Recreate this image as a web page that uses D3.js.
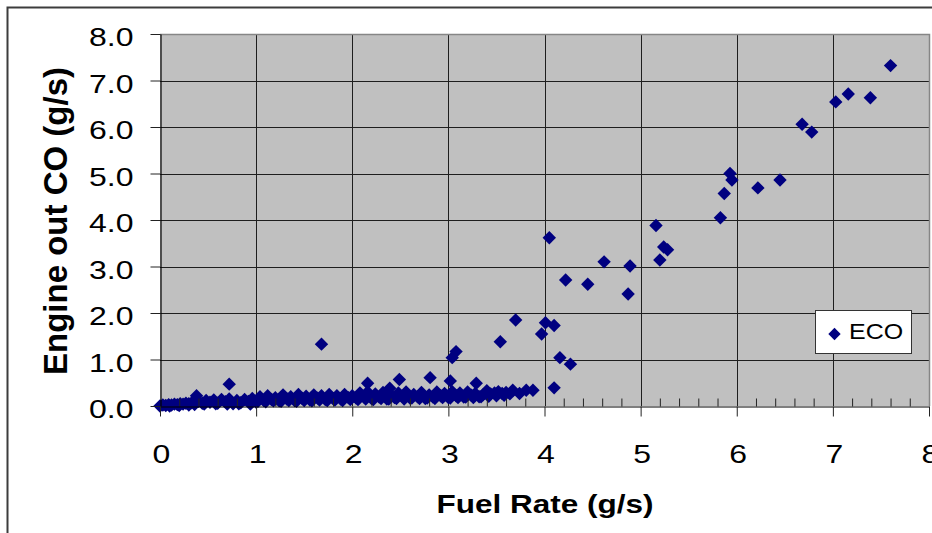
<!DOCTYPE html>
<html>
<head>
<meta charset="utf-8">
<script src="https://cdn.jsdelivr.net/npm/d3@7"></script>
<style>
  html, body { margin: 0; padding: 0; background: #fff; }
  svg { display: block; }
  text { font-family: "Liberation Sans", Arial, sans-serif; fill: #000; }
</style>
</head>
<body>
<svg id="chart" width="932" height="533"></svg>
<script>
// ---- data ----
const fuelRate = [
  // dense band 0 - 0.4
  0.00, 0.03, 0.06, 0.09, 0.12, 0.15, 0.18, 0.21, 0.24, 0.27, 0.30, 0.33, 0.36, 0.38, 0.40,
  0.10, 0.20, 0.30, 0.36,
  // band 0.4 - 1.0
  0.44, 0.48, 0.52, 0.56, 0.60, 0.64, 0.68, 0.72, 0.76, 0.80, 0.84, 0.88, 0.92, 0.96, 1.00,
  0.46, 0.58, 0.70, 0.82, 0.94,
  // band 1.0 - 2.0
  1.04, 1.08, 1.12, 1.16, 1.20, 1.24, 1.28, 1.32, 1.36, 1.40, 1.44, 1.48, 1.52, 1.56, 1.60,
  1.64, 1.68, 1.72, 1.76, 1.80, 1.84, 1.88, 1.92, 1.96, 2.00,
  1.02, 1.10, 1.18, 1.26, 1.34, 1.42, 1.50, 1.58, 1.66, 1.74, 1.82, 1.90, 1.98,
  // band 2.0 - 3.9
  2.04, 2.08, 2.12, 2.16, 2.20, 2.24, 2.28, 2.32, 2.36, 2.40, 2.44, 2.48, 2.52, 2.56, 2.60,
  2.64, 2.68, 2.72, 2.76, 2.80, 2.84, 2.88, 2.92, 2.96, 3.00, 3.04, 3.08, 3.12, 3.16, 3.20,
  3.24, 3.28, 3.32, 3.36, 3.40, 3.44, 3.48, 3.52, 3.56, 3.60, 3.67, 3.81, 3.88,
  2.06, 2.14, 2.22, 2.30, 2.38, 2.46, 2.54, 2.62, 2.70, 2.78, 2.86, 2.94, 3.02, 3.10, 3.18,
  3.26, 3.34, 3.42, 3.50, 3.58, 3.64, 3.74,
  // scattered points
  0.72, 1.68, 2.16, 2.39, 2.49, 2.81, 3.02, 3.04, 3.08, 3.29, 3.54, 3.70, 3.97, 4.01, 4.10,
  4.16, 4.27, 4.10, 4.05, 4.22, 4.45, 4.62, 4.89, 4.87, 5.16, 5.20, 5.24, 5.28, 5.83, 5.87,
  5.93, 5.95, 6.22, 6.45, 6.68, 6.78, 7.03, 7.16, 7.39, 7.60
];
const engineCO = [
  0.00, 0.02, 0.01, 0.03, 0.02, 0.04, 0.03, 0.05, 0.04, 0.06, 0.05, 0.07, 0.08, 0.22, 0.10,
  0.00, 0.01, 0.02, 0.03,
  0.06, 0.12, 0.08, 0.13, 0.06, 0.14, 0.09, 0.15, 0.05, 0.12, 0.07, 0.14, 0.10, 0.16, 0.08,
  0.04, 0.05, 0.04, 0.05, 0.04,
  0.20, 0.12, 0.22, 0.14, 0.18, 0.11, 0.24, 0.15, 0.20, 0.12, 0.25, 0.16, 0.21, 0.13, 0.24,
  0.17, 0.22, 0.14, 0.25, 0.16, 0.22, 0.15, 0.25, 0.18, 0.22,
  0.10, 0.09, 0.11, 0.10, 0.12, 0.10, 0.12, 0.11, 0.13, 0.12, 0.13, 0.12, 0.14,
  0.17, 0.28, 0.20, 0.30, 0.16, 0.26, 0.19, 0.29, 0.15, 0.24, 0.18, 0.28, 0.21, 0.30, 0.17,
  0.25, 0.20, 0.29, 0.16, 0.24, 0.19, 0.30, 0.22, 0.27, 0.18, 0.31, 0.22, 0.28, 0.19, 0.30,
  0.23, 0.27, 0.20, 0.24, 0.33, 0.26, 0.28, 0.31, 0.27, 0.29, 0.34, 0.34, 0.34,
  0.14, 0.15, 0.14, 0.16, 0.15, 0.16, 0.15, 0.17, 0.16, 0.17, 0.16, 0.18, 0.17, 0.18, 0.19,
  0.18, 0.20, 0.21, 0.22, 0.23, 0.26, 0.27,
  0.47, 1.33, 0.49, 0.38, 0.57, 0.61, 0.54, 1.04, 1.17, 0.49, 1.38, 1.85, 1.55, 1.79, 1.73,
  1.04, 0.90, 0.39, 3.62, 2.71, 2.62, 3.10, 3.01, 2.41, 3.88, 3.14, 3.42, 3.36, 4.05, 4.57,
  5.00, 4.86, 4.69, 4.86, 6.06, 5.89, 6.54, 6.71, 6.63, 7.32
];
const xTicks = [0, 1, 2, 3, 4, 5, 6, 7, 8];
const yTicks = [0, 1, 2, 3, 4, 5, 6, 7, 8];
const seriesName = "ECO";
const xTitle = "Fuel Rate (g/s)";
const yTitle = "Engine out CO (g/s)";

(function () {
// ---- layout ----
const svg = d3.select("#chart");
const pL = 160, pR = 929, pT = 34, pB = 406;
const x = d3.scaleLinear().domain([0, 8]).range([pL, pR]);
const y = d3.scaleLinear().domain([0, 8]).range([pB, pT]);
const points = fuelRate.map((v, i) => ({ x: v, y: engineCO[i] }));

// outer chart border
svg.append("rect").attr("x", 7.5).attr("y", 7.5).attr("width", 1000).attr("height", 1000)
  .attr("fill", "#fff").attr("stroke", "#3c3c3c").attr("stroke-width", 2);

// plot area
svg.append("rect").attr("x", pL).attr("y", pT).attr("width", pR - pL).attr("height", pB - pT)
  .attr("fill", "#c0c0c0");

// grid lines
const grid = svg.append("g").attr("stroke", "#1e1e1e").attr("stroke-width", 1);
grid.selectAll("line.v").data(xTicks.filter(d => d > 0 && d < 8)).enter().append("line")
  .attr("x1", d => Math.round(x(d)) + 0.5).attr("x2", d => Math.round(x(d)) + 0.5)
  .attr("y1", pT).attr("y2", pB);
grid.selectAll("line.h").data(yTicks.filter(d => d > 0 && d < 8)).enter().append("line")
  .attr("y1", d => Math.round(y(d)) + 0.5).attr("y2", d => Math.round(y(d)) + 0.5)
  .attr("x1", pL).attr("x2", pR);

// plot border (top/right gray)
svg.append("path")
  .attr("d", `M${pL},${pT + 0.5}H${pR + 0.5}V${pB}`)
  .attr("fill", "none").attr("stroke", "#868686").attr("stroke-width", 1.5);

// points
const sq = d3.symbol().type(d3.symbolSquare).size(90);
svg.append("g").selectAll("path").data(points).enter().append("path")
  .attr("d", sq)
  .attr("transform", d => `translate(${x(d.x)},${y(d.y)}) rotate(45)`)
  .attr("fill", "#000080");

// y axis
const yAxis = d3.axisLeft(y).tickValues(yTicks).tickSize(10).tickSizeOuter(0)
  .tickFormat(d3.format(".1f"));
const gy = svg.append("g").attr("transform", `translate(${pL + 0.5},0)`).call(yAxis);
gy.select(".domain").attr("stroke", "#000").attr("stroke-width", 1.2);
gy.selectAll(".tick line").attr("stroke", "#222");
gy.selectAll(".tick text")
  .attr("font-size", 32).attr("x", null).attr("dy", null)
  .attr("y", 0)
  .attr("transform", "translate(-27,11.5) scale(1,0.82)")
  .style("font-family", "'Liberation Sans', Arial, sans-serif");

// x axis minor ticks (inside)
const minorTicks = d3.range(1, 40).map(i => i / 5).filter(v => Math.abs(v - Math.round(v)) > 1e-6);
const xMinor = d3.axisBottom(x).tickValues(minorTicks).tickSize(-8).tickSizeOuter(0).tickFormat("");
const gxm = svg.append("g").attr("transform", `translate(0,${pB + 0.5})`).call(xMinor);
gxm.select(".domain").remove();
gxm.selectAll(".tick line").attr("stroke", "#222");

// x axis
const xAxis = d3.axisBottom(x).tickValues(xTicks).tickSize(10).tickSizeOuter(0).tickFormat(d3.format("d"));
const gx = svg.append("g").attr("transform", `translate(0,${pB + 0.5})`).call(xAxis);
gx.select(".domain").attr("stroke", "#000").attr("stroke-width", 1.2);
gx.selectAll(".tick line").attr("stroke", "#222");
gx.selectAll(".tick text")
  .attr("font-size", 32).attr("y", 0).attr("dy", null)
  .attr("transform", "translate(1,56.5) scale(1,0.82)")
  .style("font-family", "'Liberation Sans', Arial, sans-serif");

// axis titles
svg.append("text")
  .attr("transform", "translate(67,221) rotate(-90)")
  .attr("text-anchor", "middle").attr("font-size", 33).attr("font-weight", "bold")
  .text(yTitle);
svg.append("text")
  .attr("transform", "translate(545,512.5) scale(1,0.8)")
  .attr("text-anchor", "middle").attr("font-size", 31.5).attr("font-weight", "bold")
  .text(xTitle);

// legend
const lg = svg.append("g");
lg.append("rect").attr("x", 815.5).attr("y", 310.5).attr("width", 96).attr("height", 43)
  .attr("fill", "#fff").attr("stroke", "#333").attr("stroke-width", 1);
lg.append("path").attr("d", d3.symbol().type(d3.symbolSquare).size(76))
  .attr("transform", "translate(834.5,334) rotate(45)").attr("fill", "#000080");
lg.append("text").attr("transform", "translate(849,339) scale(1,0.88)")
  .attr("font-size", 25).text(seriesName);
})();
</script>
</body>
</html>
